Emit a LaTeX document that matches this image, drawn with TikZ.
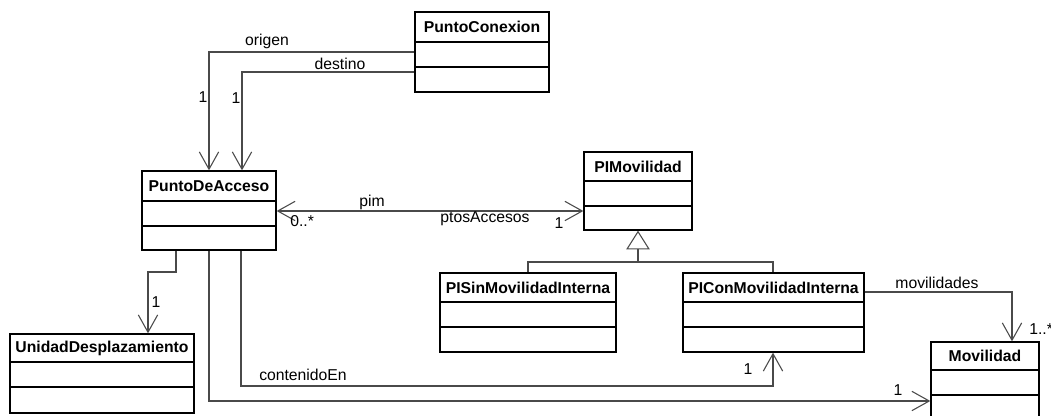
\documentclass[tikz,border=0pt]{standalone}
\usepackage{fontspec}
\setmainfont{Liberation Sans}
\usetikzlibrary{arrows.meta,fit}

\definecolor{linegray}{HTML}{4A4A4A}
\newcommand\txtfont{\fontsize{11.8}{14}\selectfont}

% UML class box: name, x1, y1, x2, y2, first separator, second separator, title
\newcommand\umlclass[8]{%
  \node[classbox, fit={(#2,#3) (#4,#5)}] (#1) {};
  \draw[classline] (#2,#6) -- (#4,#6);
  \draw[classline] (#2,#7) -- (#4,#7);
  \node[classtitle] at ({(#2+#4)/2},{(#3+#6)/2}) {#8};
}

\tikzset{
  classbox/.style={draw=black, line width=1pt, inner sep=0pt, fill=white},
  classline/.style={draw=black, line width=1pt},
  classtitle/.style={font=\txtfont\bfseries, inner sep=0pt},
  lbl/.style={font=\txtfont, inner sep=0pt},
  conn/.style={draw=linegray, line width=0.8pt},
  assoc/.style={conn, -{Straight Barb[length=13pt,width=14.5pt,line width=0.8pt]}},
  biassoc/.style={conn, {Straight Barb[length=13pt,width=14.5pt,line width=0.8pt]}-{Straight Barb[length=13pt,width=14.5pt,line width=0.8pt]}},
  gen/.style={conn, -{Triangle[open,length=14pt,width=17.5pt,line width=0.8pt,fill=white]}}
}

\begin{document}
\begin{tikzpicture}[x=0.75pt,y=-0.75pt]
\clip (0,0) rectangle (1051,416);
\fill[white] (0,0) rectangle (1051,416);

% classes
\umlclass{pc}{415}{12}{549}{92}{42}{67}{PuntoConexion}
\umlclass{pda}{142}{171}{276}{250}{201}{226}{PuntoDeAcceso}
\umlclass{pim}{584}{152}{692}{230}{181}{206}{PIMovilidad}
\umlclass{psin}{440}{273}{616}{352}{302}{327}{PISinMovilidadInterna}
\umlclass{pcon}{683}{273}{864}{352}{302}{327}{PIConMovilidadInterna}
\umlclass{ud}{10}{334}{194}{413}{362}{387}{UnidadDesplazamiento}
\umlclass{mov}{931}{342}{1039}{430}{370}{395}{Movilidad}

% origen / destino
\draw[assoc] (pc.west |- 0,52) -| (pda.north -| 209,0);
\draw[assoc] (pc.west |- 0,72) -| (pda.north -| 242,0);
\node[lbl] at (267,41) {origen};
\node[lbl] at (340,64) {destino};
\node[lbl] at (203,97) {1};
\node[lbl] at (236,98) {1};

% pim / ptosAccesos
\draw[biassoc] (pda.east |- 0,211) -- (pim.west |- 0,211);
\node[lbl] at (372,202) {pim};
\node[lbl] at (485,219) {ptosAccesos};
\node[lbl, anchor=west] at (290,221) {0..*};
\node[lbl] at (559,223) {1};

% generalization
\draw[gen] (638,262) -- (pim.south);
\draw[conn] (psin.north -| 528,0) -- (528,262) -- (773,262) -- (pcon.north -| 773,0);

% movilidades
\draw[assoc] (pcon.east |- 0,292) -| (mov.north -| 1012,0);
\node[lbl] at (937,283) {movilidades};
\node[lbl, anchor=west] at (1029,329) {1..*};

% UnidadDesplazamiento
\draw[assoc] (pda.south -| 176,0) -- (176,272) -| (ud.north -| 148,0);
\node[lbl] at (156,302) {1};

% contenidoEn
\draw[assoc] (pda.south -| 241,0) |- (773,386) -- (pcon.south -| 773,0);
\node[lbl] at (303,375) {contenidoEn};
\node[lbl] at (748,369) {1};

% Movilidad
\draw[assoc] (pda.south -| 209,0) |- (mov.west |- 0,401);
\node[lbl] at (898,390) {1};
\end{tikzpicture}
\end{document}
